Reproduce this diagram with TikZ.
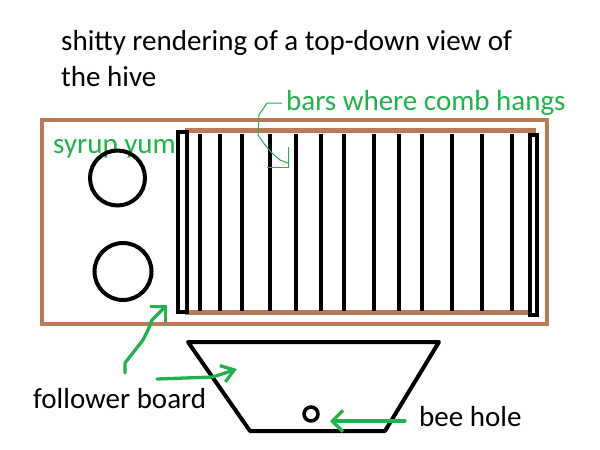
\documentclass[tikz,border=0pt]{standalone}
\usepackage{fontspec}
\setmainfont{Carlito}
\usepackage{xcolor}
\usetikzlibrary{arrows.meta}
\definecolor{hivebrown}{HTML}{B97A57}
\definecolor{markgreen}{HTML}{22B14C}

\begin{document}
\begin{tikzpicture}[
  x=1pt, y=-1pt,
  note/.style={anchor=base west, inner sep=0pt, font=\fontsize{29}{36}\selectfont},
  wood/.style={draw=hivebrown, line width=4.5pt},
  board/.style={draw=black, line width=4pt},
  bar/.style={draw=black, line width=4.5pt},
  pointer/.style={draw=markgreen, line width=3.3pt, line cap=round, line join=round},
  >={Straight Barb[angle=90:15pt]}
]
  \useasboundingbox (0,0) rectangle (600,450);
  \node[note, align=left] (title) at (61,86) {shitty rendering of a top-down view of\\the hive};
  \node[note, text=markgreen] (syrup) at (53,153) {syrup yum};
  \node[note, text=markgreen] (barsnote) at (286,110) {bars where comb hangs};
  \node[note] (follower) at (33,408) {follower board};
  \node[note] (beehole) at (419,426) {bee hole};

  \draw[wood] (42,120) rectangle (547,324);
  \draw[wood] (185,130.5) -- (536,130.5);
  \draw[wood] (185,312.5) -- (528,312.5);
  \foreach \x in {200,220,242,270,296,321,344,374,399,422,452,482,512}
    \draw[bar] (\x,134) -- (\x,311);
  \draw[board] (178,132) rectangle (187,312);
  \draw[board] (530,135) rectangle (537,315);
  \draw[board] (117.5,178) circle (27.5);
  \draw[board] (123,271.5) circle (28.5);

  \draw[board, line join=round] (188,342) -- (439,342) -- (385,431) -- (250,431) -- cycle;
  \draw[board, line width=3.5pt] (311,414) circle (7);

  \coordinate (lefttip) at (167,305);
  \coordinate (hoppertip) at (237,369);
  \coordinate (holetip) at (330,421);
  \draw[pointer, ->] (125,373) -- (125,363) -- (143,340) -- (148,330) -- (152,320) -- (158,314) -- (lefttip);
  \draw[pointer, -{Straight Barb[angle=70:15pt]}] (157,379) -- (213,377) -- (hoppertip);
  \draw[pointer, ->] (405,421) -- (holetip);

  \draw[markgreen, line width=1pt] (282,103) -- (267,103) -- (259,115) -- (258,135) -- (265,145) -- (272,153) -- (280,160) -- (288,163);
  \draw[markgreen, line width=1pt] (288,147) -- (288,167) -- (267,167);
\end{tikzpicture}
\end{document}
